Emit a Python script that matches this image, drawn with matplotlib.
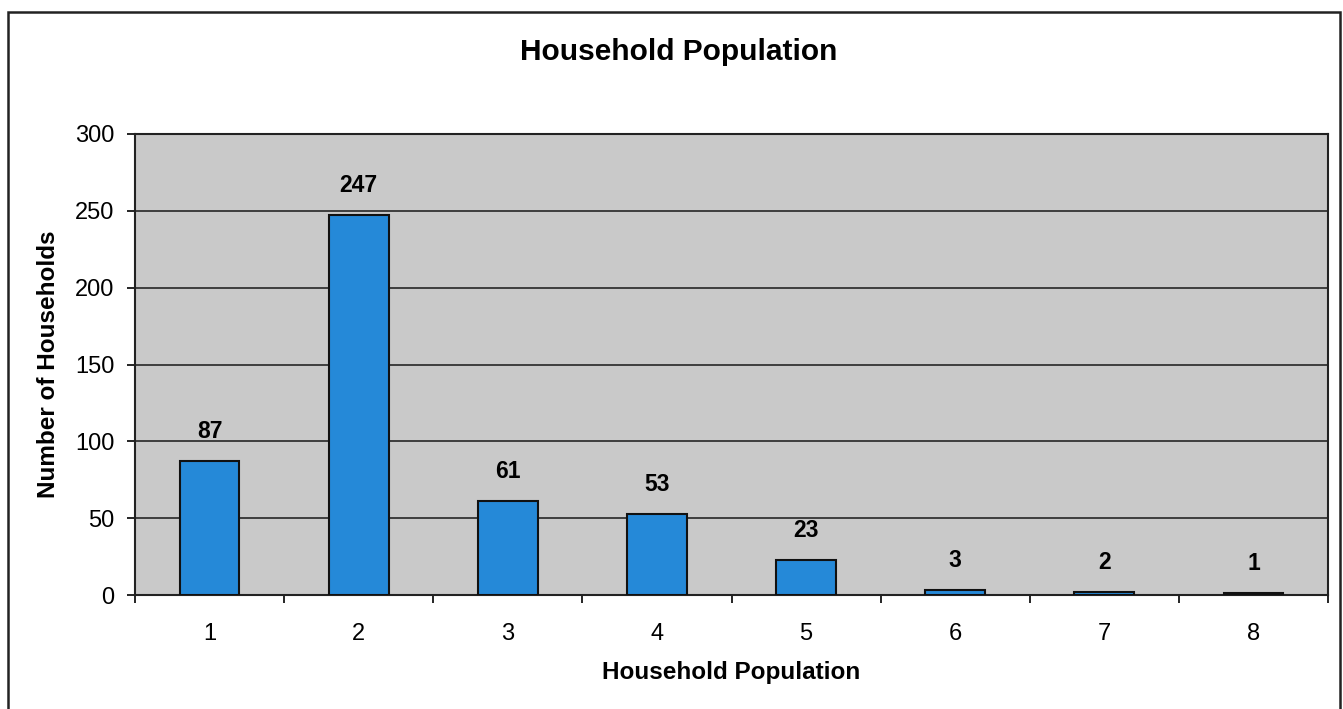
import matplotlib
matplotlib.use("Agg")
import matplotlib.pyplot as plt
from matplotlib.patches import Rectangle

plt.rcParams['font.family'] = ['Liberation Sans', 'DejaVu Sans']

household_size = ["1", "2", "3", "4", "5", "6", "7", "8"]
num_households = [87, 247, 61, 53, 23, 3, 2, 1]

W, H = 1343, 709
fig = plt.figure(figsize=(W / 100, H / 100), dpi=100)

# outer chart frame (bottom edge runs off the page)
fig.add_artist(Rectangle((8 / W, -0.05), (1340 - 8) / W, 1.05 - 12 / H,
                         transform=fig.transFigure, fill=False,
                         edgecolor="#222222", linewidth=1.8))

ax = fig.add_axes([135 / W, 1 - 595 / H, 1193 / W, 461 / H])
ax.set_facecolor("#c9c9c9")

x = range(1, len(household_size) + 1)
bars = ax.bar(x, num_households, width=0.4, color="#2589d8",
              edgecolor="#111111", linewidth=1.5, zorder=3)

for xi, v in zip(x, num_households):
    ax.annotate(str(v), (xi, v), xytext=(0, 13), textcoords="offset points",
                ha="center", va="bottom", fontsize=16.5, fontweight="bold")

ax.set_xlim(0.5, len(household_size) + 0.5)
ax.set_ylim(0, 300)
ax.set_yticks(range(0, 301, 50))
ax.set_xticks(list(x))
ax.set_xticklabels(household_size)
ax.set_xticks([i + 0.5 for i in range(0, len(household_size) + 1)], minor=True)
ax.tick_params(axis="x", which="major", length=0, pad=20, labelsize=17)
ax.tick_params(axis="x", which="minor", length=6, width=1.2, direction="out")
ax.tick_params(axis="y", length=6, width=1.2, direction="out", labelsize=17, pad=9)

ax.grid(axis="y", color="#333333", linewidth=1.3, zorder=1)
ax.set_axisbelow(True)
for s in ax.spines.values():
    s.set_linewidth(1.5)
    s.set_color("#222222")

ax.set_xlabel("Household Population", fontsize=17.5, fontweight="bold", labelpad=12)
ax.set_ylabel("Number of Households", fontsize=17.5, fontweight="bold", labelpad=11)
fig.text(679 / W, 1 - 52 / H, "Household Population", ha="center", va="center",
         fontsize=21.5, fontweight="bold")

fig.savefig("out.png", dpi=100)
